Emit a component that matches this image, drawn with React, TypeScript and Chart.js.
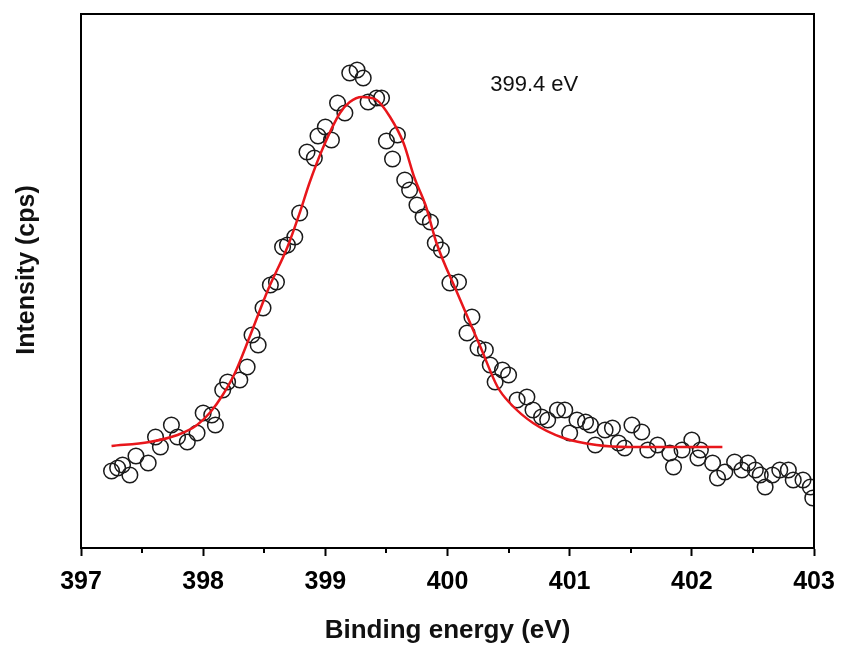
import React, { useEffect, useRef } from "react";
import { Chart, registerables } from "chart.js";

Chart.register(...registerables);

// Measured XPS N 1s data (binding energy in eV, intensity in arbitrary cps units)
const energy = [
  397.25, 397.30, 397.34, 397.40, 397.45, 397.55, 397.61, 397.65, 397.74, 397.79,
  397.87, 397.95, 398.00, 398.07, 398.10, 398.16, 398.20, 398.30, 398.36, 398.40,
  398.45, 398.49, 398.55, 398.60, 398.65, 398.69, 398.75, 398.79, 398.85, 398.91,
  398.94, 399.00, 399.05, 399.10, 399.16, 399.20, 399.26, 399.31, 399.35, 399.42,
  399.46, 399.50, 399.55, 399.59, 399.65, 399.69, 399.75, 399.80, 399.86, 399.90,
  399.95, 400.02, 400.09, 400.16, 400.20, 400.25, 400.31, 400.35, 400.39, 400.45,
  400.50, 400.57, 400.65, 400.70, 400.77, 400.82, 400.90, 400.96, 401.00, 401.06,
  401.13, 401.17, 401.21, 401.29, 401.35, 401.40, 401.45, 401.51, 401.59, 401.64,
  401.72, 401.82, 401.85, 401.92, 402.00, 402.05, 402.07, 402.17, 402.21, 402.27,
  402.35, 402.41, 402.46, 402.52, 402.56, 402.60, 402.66, 402.72, 402.79, 402.83,
  402.91, 402.97, 402.99,
];
const counts = [
  77, 80, 83, 73, 92, 85, 111, 101, 123, 111,
  106, 115, 135, 133, 123, 158, 166, 168, 181, 213,
  203, 240, 263, 266, 301, 303, 311, 335, 396, 390,
  412, 421, 408, 445, 435, 475, 478, 470, 446, 450,
  450, 407, 389, 413, 368, 358, 343, 331, 326, 305,
  298, 265, 266, 215, 231, 200, 198, 183, 166, 178,
  173, 148, 151, 138, 131, 128, 138, 138, 115, 128,
  126, 123, 103, 118, 120, 105, 100, 123, 116, 98,
  103, 95, 81, 98, 108, 90, 98, 85, 70, 76,
  86, 78, 85, 78, 73, 61, 73, 78, 78, 68,
  68, 61, 50,
];

// Fitted peak (red curve)
const fitEnergy = [
  397.25, 397.56, 397.79, 397.95, 398.06, 398.16, 398.26, 398.38, 398.53, 398.69,
  398.79, 398.87, 398.98, 399.12, 399.20, 399.30, 399.42, 399.53, 399.64, 399.73,
  399.82, 399.91, 400.08, 400.27, 400.41, 400.51, 400.70, 400.95, 401.22, 401.49,
  401.74, 402.25,
];
const fitCounts = [
  102, 106, 113, 123, 136, 153, 175, 211, 258, 301,
  335, 365, 400, 435, 446, 451, 448, 431, 405, 370,
  343, 305, 255, 201, 161, 145, 125, 110, 103, 101,
  101, 101,
];

const X_MIN = 397;
const X_MAX = 403;
const X_STEP = 0.5;
const Y_MIN = 0;
const Y_MAX = 534;

const PEAK_LABEL = "399.4 eV";
const PEAK_LABEL_X = 400.71;
const PEAK_LABEL_Y = 463;

const X_TITLE = "Binding energy (eV)";
const Y_TITLE = "Intensity (cps)";
const Y_TITLE_VALUE = 278; // data-space position of the y-title centre

const FONT = "'Liberation Sans', Arial, Helvetica, sans-serif";

const framePlugin = {
  id: "frameAndExtras",
  afterDraw(chart: any) {
    const { ctx, chartArea, scales } = chart;
    const xs = scales.x;
    ctx.save();
    // frame
    ctx.strokeStyle = "#000";
    ctx.lineWidth = 2;
    ctx.beginPath();
    ctx.moveTo(chartArea.left, chartArea.bottom);
    ctx.lineTo(chartArea.left, chartArea.top);
    ctx.lineTo(chartArea.right, chartArea.top);
    ctx.lineTo(chartArea.right, chartArea.bottom);
    ctx.lineTo(chartArea.left, chartArea.bottom);
    ctx.stroke();
    // minor ticks
    ctx.beginPath();
    for (const t of xs.ticks) {
      if (Math.abs(t.value % 1) > 1e-6) {
        const px = Math.round(xs.getPixelForValue(t.value));
        ctx.moveTo(px, chartArea.bottom);
        ctx.lineTo(px, chartArea.bottom + 5);
      }
    }
    ctx.stroke();
    // peak annotation
    ctx.fillStyle = "#111";
    ctx.font = `22px ${FONT}`;
    ctx.textAlign = "center";
    ctx.textBaseline = "middle";
    ctx.fillText(
      PEAK_LABEL,
      xs.getPixelForValue(PEAK_LABEL_X),
      scales.y.getPixelForValue(PEAK_LABEL_Y)
    );
    // y axis title
    ctx.translate(27, scales.y.getPixelForValue(Y_TITLE_VALUE));
    ctx.rotate(-Math.PI / 2);
    ctx.font = `bold 25px ${FONT}`;
    ctx.fillText(Y_TITLE, 0, 0);
    ctx.restore();
  },
};

export default function App() {
  const ref = useRef<HTMLCanvasElement>(null);

  useEffect(() => {
    if (!ref.current) return;
    Chart.defaults.font.family = FONT;
    const chart = new Chart(ref.current, {
      type: "scatter",
      data: {
        datasets: [
          {
            label: "Fit",
            data: fitEnergy.map((x, i) => ({ x, y: fitCounts[i] })),
            showLine: true,
            borderColor: "#e8161b",
            borderWidth: 2.5,
            pointRadius: 0,
            cubicInterpolationMode: "monotone",
            fill: false,
            order: 0,
          },
          {
            label: "Data",
            data: energy.map((x, i) => ({ x, y: counts[i] })),
            showLine: false,
            pointStyle: "circle",
            pointRadius: 7.8,
            pointBorderWidth: 1.5,
            pointBorderColor: "#1a1a1a",
            pointBackgroundColor: "rgba(255,255,255,0)",
            clip: { left: 10, top: 10, right: 0, bottom: 10 },
            order: 1,
          },
        ],
      },
      options: {
        responsive: false,
        animation: false,
        events: [],
        layout: { padding: { top: 14, right: 28, left: 0, bottom: 0 } },
        plugins: {
          legend: { display: false },
          tooltip: { enabled: false },
        },
        scales: {
          x: {
            type: "linear",
            position: "bottom",
            min: X_MIN,
            max: X_MAX,
            afterFit: (s: any) => {
              s.height = 104;
              s.paddingLeft = 0;
              s.paddingRight = 0;
            },
            ticks: {
              stepSize: X_STEP,
              autoSkip: false,
              maxRotation: 0,
              padding: 11,
              color: "#000",
              font: { size: 25, weight: "bold", family: FONT },
              callback: (v: any) =>
                Math.abs(Number(v) % 1) < 1e-6 ? String(Math.round(Number(v))) : "",
            },
            grid: {
              display: true,
              drawOnChartArea: false,
              drawTicks: true,
              tickLength: 8,
              tickWidth: 2,
              tickColor: (c: any) =>
                c.tick && Math.abs(c.tick.value % 1) < 1e-6 ? "#000" : "rgba(0,0,0,0)",
            },
            border: { display: true, color: "#000", width: 2 },
            title: {
              display: true,
              text: X_TITLE,
              color: "#111",
              font: { size: 26, weight: "bold", family: FONT },
              padding: { top: 0, bottom: 6 },
            },
          },
          y: {
            type: "linear",
            min: Y_MIN,
            max: Y_MAX,
            afterFit: (s: any) => {
              s.width = 81;
              s.paddingTop = 0;
              s.paddingBottom = 0;
            },
            ticks: { display: false },
            grid: { display: false, drawOnChartArea: false, drawTicks: false },
            border: { display: true, color: "#000", width: 2 },
            title: { display: false },
          },
        },
      },
      plugins: [framePlugin],
    } as any);
    return () => chart.destroy();
  }, []);

  return (
    <div style={{ position: "fixed", left: 0, top: 0, width: 842, height: 652, background: "#fff" }}>
      <canvas ref={ref} width={842} height={652} style={{ display: "block" }} />
    </div>
  );
}
